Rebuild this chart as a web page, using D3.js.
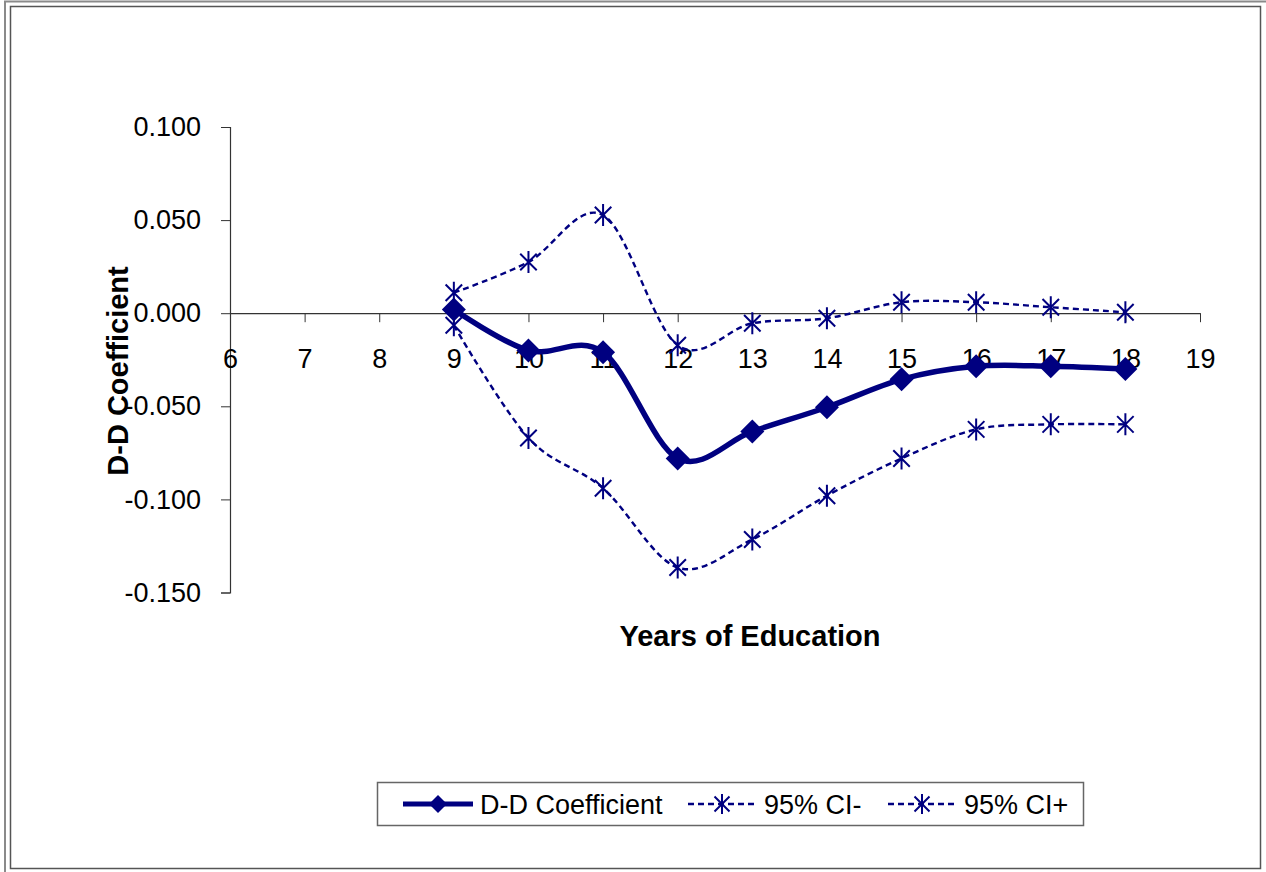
<!DOCTYPE html>
<html>
<head>
<meta charset="utf-8">
<script src="https://cdn.jsdelivr.net/npm/d3@7"></script>
<style>
  html, body { margin: 0; padding: 0; background: #fff; }
  svg { display: block; font-family: Arial, "Liberation Sans", sans-serif; }
</style>
</head>
<body>
<svg id="chart" width="1266" height="872"></svg>
<script>
// Years of education (category axis) and estimated coefficients
const years = [9, 10, 11, 12, 13, 14, 15, 16, 17, 18];
const coef  = [0.002, -0.020, -0.021, -0.078, -0.0635, -0.0505, -0.0355, -0.0285, -0.0285, -0.0300];
const ciLow = [-0.0065, -0.067, -0.094, -0.1366, -0.1215, -0.098, -0.078, -0.0624, -0.0597, -0.0597];
const ciHigh = [0.011, 0.0275, 0.0527, -0.0172, -0.0054, -0.0027, 0.0059, 0.0059, 0.0032, 0.0005];
const xTicks = [6, 7, 8, 9, 10, 11, 12, 13, 14, 15, 16, 17, 18, 19];
const yTicks = [0.100, 0.050, 0.000, -0.050, -0.100, -0.150];
const seriesNames = ["D-D Coefficient", "95% CI-", "95% CI+"];

const navy = "#000080";
const svg = d3.select("#chart");

// Outer frames
svg.append("path")
  .attr("d", "M5,872 V1.5 H1266")
  .attr("fill", "none").attr("stroke", "#8a8a8a").attr("stroke-width", 2);
svg.append("rect")
  .attr("x", 10.5).attr("y", 6.5).attr("width", 1250).attr("height", 862)
  .attr("fill", "none").attr("stroke", "#555").attr("stroke-width", 1.5);

const x = d3.scaleLinear().domain([6, 19]).range([230, 1200]);
const y = d3.scaleLinear().domain([-0.15, 0.10]).range([592.5, 127]);

// Y axis
const yAxis = svg.append("g")
  .attr("transform", `translate(${x(6)},0)`)
  .call(d3.axisLeft(y).tickValues(yTicks).tickSize(9).tickPadding(20)
    .tickFormat(d => d.toFixed(3)));
yAxis.select(".domain").attr("stroke", "#333").attr("stroke-width", 1.2);
yAxis.selectAll(".tick line").attr("stroke", "#333");
yAxis.selectAll("text").attr("font-size", 27).attr("fill", "#000")
  .attr("font-family", "Arial, 'Liberation Sans', sans-serif");

// X axis crossing at zero
const xAxis = svg.append("g")
  .attr("transform", `translate(0,${y(0)})`)
  .call(d3.axisBottom(x).tickValues(xTicks).tickSize(9).tickSizeOuter(0).tickPadding(0)
    .tickFormat(d3.format("d")));
xAxis.select(".domain").attr("stroke", "#333").attr("stroke-width", 1.2);
xAxis.selectAll(".tick line").attr("stroke", "#333");
xAxis.selectAll("text").attr("font-size", 27).attr("fill", "#000")
  .attr("font-family", "Arial, 'Liberation Sans', sans-serif")
  .attr("dy", null).attr("y", 55);

// Axis titles
svg.append("text")
  .attr("x", 750).attr("y", 646)
  .attr("text-anchor", "middle")
  .attr("font-size", 29).attr("font-weight", "bold")
  .text("Years of Education");
svg.append("text")
  .attr("transform", "translate(128,371) rotate(-90)")
  .attr("text-anchor", "middle")
  .attr("font-size", 29).attr("font-weight", "bold")
  .text("D-D Coefficient");

// Marker shapes
function diamond(r) { return `M0,${-r} L${r},0 L0,${r} L${-r},0 Z`; }
function star(r) {
  const a = r * 0.75;
  return `M${-a},${-a} L${a},${a} M${-a},${a} L${a},${-a} M0,${-r} L0,${r}`;
}

const curve = d3.curveCardinal.tension(0);
const line = vals => d3.line()
  .x((d, i) => x(years[i]))
  .y(d => y(d))
  .curve(curve)(vals);

const plot = svg.append("g");

// Main coefficient series
plot.append("path")
  .attr("d", line(coef))
  .attr("fill", "none").attr("stroke", navy).attr("stroke-width", 5.5)
  .attr("stroke-linejoin", "round");
plot.selectAll(".dia").data(coef).join("path")
  .attr("transform", (d, i) => `translate(${x(years[i])},${y(d)})`)
  .attr("d", diamond(12)).attr("fill", navy);

// Confidence bounds
[ciLow, ciHigh].forEach(vals => {
  plot.append("path")
    .attr("d", line(vals))
    .attr("fill", "none").attr("stroke", navy).attr("stroke-width", 2.4)
    .attr("stroke-dasharray", "6,4");
  plot.selectAll(null).data(vals).join("path")
    .attr("transform", (d, i) => `translate(${x(years[i])},${y(d)})`)
    .attr("d", star(11)).attr("fill", "none")
    .attr("stroke", navy).attr("stroke-width", 2);
});

// Legend
const lg = svg.append("g");
lg.append("rect")
  .attr("x", 377.5).attr("y", 782.5).attr("width", 706).attr("height", 43)
  .attr("fill", "#fff").attr("stroke", "#666").attr("stroke-width", 1.5);
const legendItems = [
  { name: seriesNames[0], x0: 403, x1: 473, tx: 480, solid: true },
  { name: seriesNames[1], x0: 688, x1: 756, tx: 764, solid: false },
  { name: seriesNames[2], x0: 888, x1: 956, tx: 964, solid: false }
];
const ly = 804;
legendItems.forEach(it => {
  lg.append("line")
    .attr("x1", it.x0).attr("x2", it.x1).attr("y1", ly).attr("y2", ly)
    .attr("stroke", navy).attr("stroke-width", it.solid ? 5 : 2.4)
    .attr("stroke-dasharray", it.solid ? null : "6,4");
  const mx = (it.x0 + it.x1) / 2;
  lg.append("path")
    .attr("transform", `translate(${mx},${ly})`)
    .attr("d", it.solid ? diamond(9) : star(10))
    .attr("fill", it.solid ? navy : "none")
    .attr("stroke", navy).attr("stroke-width", it.solid ? 0 : 2);
  lg.append("text")
    .attr("x", it.tx).attr("y", ly).attr("dy", "0.36em")
    .attr("font-size", 27).attr("fill", "#000")
    .text(it.name);
});
</script>
</body>
</html>
